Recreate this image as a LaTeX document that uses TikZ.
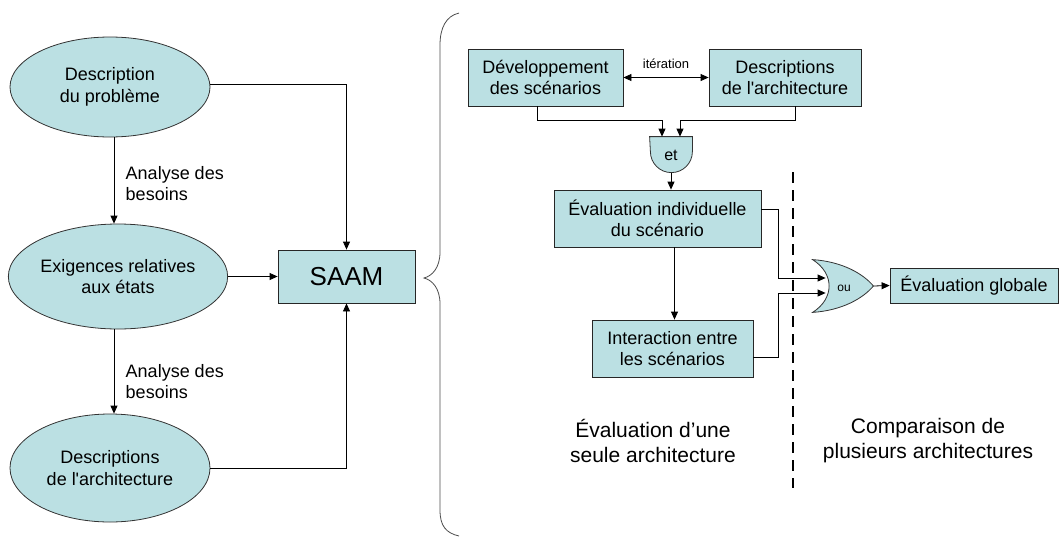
\documentclass[tikz,border=0pt]{standalone}
\usepackage{fontspec}
\setmainfont{Liberation Sans}
\usetikzlibrary{arrows.meta}
\usetikzlibrary{shapes.geometric}

\definecolor{saamfill}{RGB}{187,224,227}
\newcommand\txtbloc{\fontsize{18}{21.5}\selectfont}
\newcommand\txtsaam{\fontsize{26}{30}\selectfont}
\newcommand\txtzone{\fontsize{21}{25}\selectfont}
\newcommand\txtiter{\fontsize{13}{15}\selectfont}

\tikzset{
  etat/.style={ellipse, draw=black!80, fill=saamfill, minimum width=200pt,
    minimum height=104pt, inner sep=0pt, align=center, font=\txtbloc},
  bloc/.style={rectangle, draw=black!85, fill=saamfill, minimum height=57pt,
    inner sep=0pt, align=center, font=\txtbloc},
  fleche/.style={-{Triangle[length=8pt,width=7pt]}, black},
  porte/.style={draw=black!80, fill=saamfill},
}

\begin{document}
\begin{tikzpicture}[x=1pt, y=-1pt, line width=0.8pt]
\useasboundingbox (0,0) rectangle (1060,536);
% partie gauche
\node[etat, minimum height=100pt] (probdesc) at (110,87) {Description\\du problème};
\node[etat, minimum height=105pt] (exig) at (118,276.5) {Exigences relatives\\aux états};
\node[etat, minimum height=108pt] (archdesc) at (110,468) {Descriptions\\de l\textquotesingle architecture};
\node[bloc, minimum width=137pt, minimum height=53pt, font=\txtsaam] (saam) at (346.5,276.5) {SAAM};

\draw[fleche] ([xshift=4pt]probdesc.south) -- ([xshift=-4pt]exig.north)
  node[midway, anchor=west, xshift=8pt, yshift=-3pt, align=left, font=\txtbloc] (besoin1) {Analyse des\\besoins};
\draw[fleche] ([xshift=-4pt]exig.south) -- ([xshift=4pt]archdesc.north)
  node[pos=0.62, anchor=west, xshift=8pt, align=left, font=\txtbloc] (besoin2) {Analyse des\\besoins};
\draw[fleche] ([yshift=3pt]probdesc.east) -| (saam.north);
\draw[fleche] (exig.east) -- (saam.west);
\draw[fleche] (archdesc.east) -| (saam.south);

% accolade
\draw[black!70] (459,13) .. controls (446,16) and (440,28) .. (440,45) -- (440,252)
  .. controls (440,268) and (432,276) .. (424,278)
  .. controls (432,280) and (440,288) .. (440,304) -- (440,510)
  .. controls (440,526) and (446,533) .. (459,536);

% partie droite : une seule architecture
\node[bloc, minimum width=155pt] (devscen) at (545.5,77.5) {Développement\\des scénarios};
\node[bloc, minimum width=152pt] (descarch) at (785,77.5) {Descriptions\\de l\textquotesingle architecture};
\draw[{Triangle[length=8pt,width=7pt]}-{Triangle[length=8pt,width=7pt]}] (devscen) -- (descarch)
  node[midway, above=5pt, font=\txtiter] (iter) {itération};

\node[minimum width=42pt, minimum height=36pt, inner sep=0pt] (andgate) at (671,155) {};
\draw[porte] (andgate.north west) -- (andgate.north east) -- ++(0,15)
  arc[start angle=0, end angle=180, radius=21] -- cycle;
\node[font=\fontsize{16}{18}\selectfont] at (andgate) {et};
\draw[fleche] ([xshift=-8pt]devscen.south) -- ++(0,14) -| ([xshift=-9pt]andgate.north);
\draw[fleche] ([xshift=10pt]descarch.south) -- ++(0,14) -| ([xshift=9pt]andgate.north);

\node[bloc, minimum width=207pt] (evalind) at (657.5,218.5) {Évaluation individuelle\\du scénario};
\node[bloc, minimum width=161pt] (interact) at (672.5,348.5) {Interaction entre\\les scénarios};
\draw[fleche] (andgate.south) -- (andgate.south |- evalind.north);
\draw[fleche] ([xshift=2pt]interact.north |- evalind.south) -- ([xshift=2pt]interact.north);

% separation
\draw[line width=2.6pt, dash pattern=on 11pt off 7pt] (793,172) -- (793,488);

% partie droite : plusieurs architectures
\node[minimum width=60pt, minimum height=52pt, inner sep=0pt] (orgate) at (843,286) {};
\draw[porte] (orgate.north west) .. controls +(30,2) and +(-10,-12) .. (orgate.east)
  .. controls +(-10,12) and +(30,-2) .. (orgate.south west)
  .. controls +(22,-14) and +(22,14) .. (orgate.north west) -- cycle;
\node[font=\fontsize{12}{14}\selectfont] at ([xshift=1pt,yshift=-2pt]orgate) {ou};
\node[bloc, minimum width=168pt, minimum height=35pt] (evalglob) at (974,285.5) {Évaluation globale};

\draw[fleche] ([yshift=9pt]evalind.east) -- ++(17,0) |- ([xshift=13pt,yshift=8pt]orgate.west);
\draw[fleche] ([yshift=-8.5pt]interact.east) -- ++(25,0) |- ([xshift=13pt,yshift=-7pt]orgate.west);
\draw[fleche] (orgate.east) -- (evalglob.west);

\node[font=\txtzone, align=center] (zoneune) at (653,441) {Évaluation d’une\\seule architecture};
\node[font=\txtzone, align=center] (zoneplus) at (928,441) {Comparaison de\\plusieurs architectures};
\end{tikzpicture}
\end{document}
